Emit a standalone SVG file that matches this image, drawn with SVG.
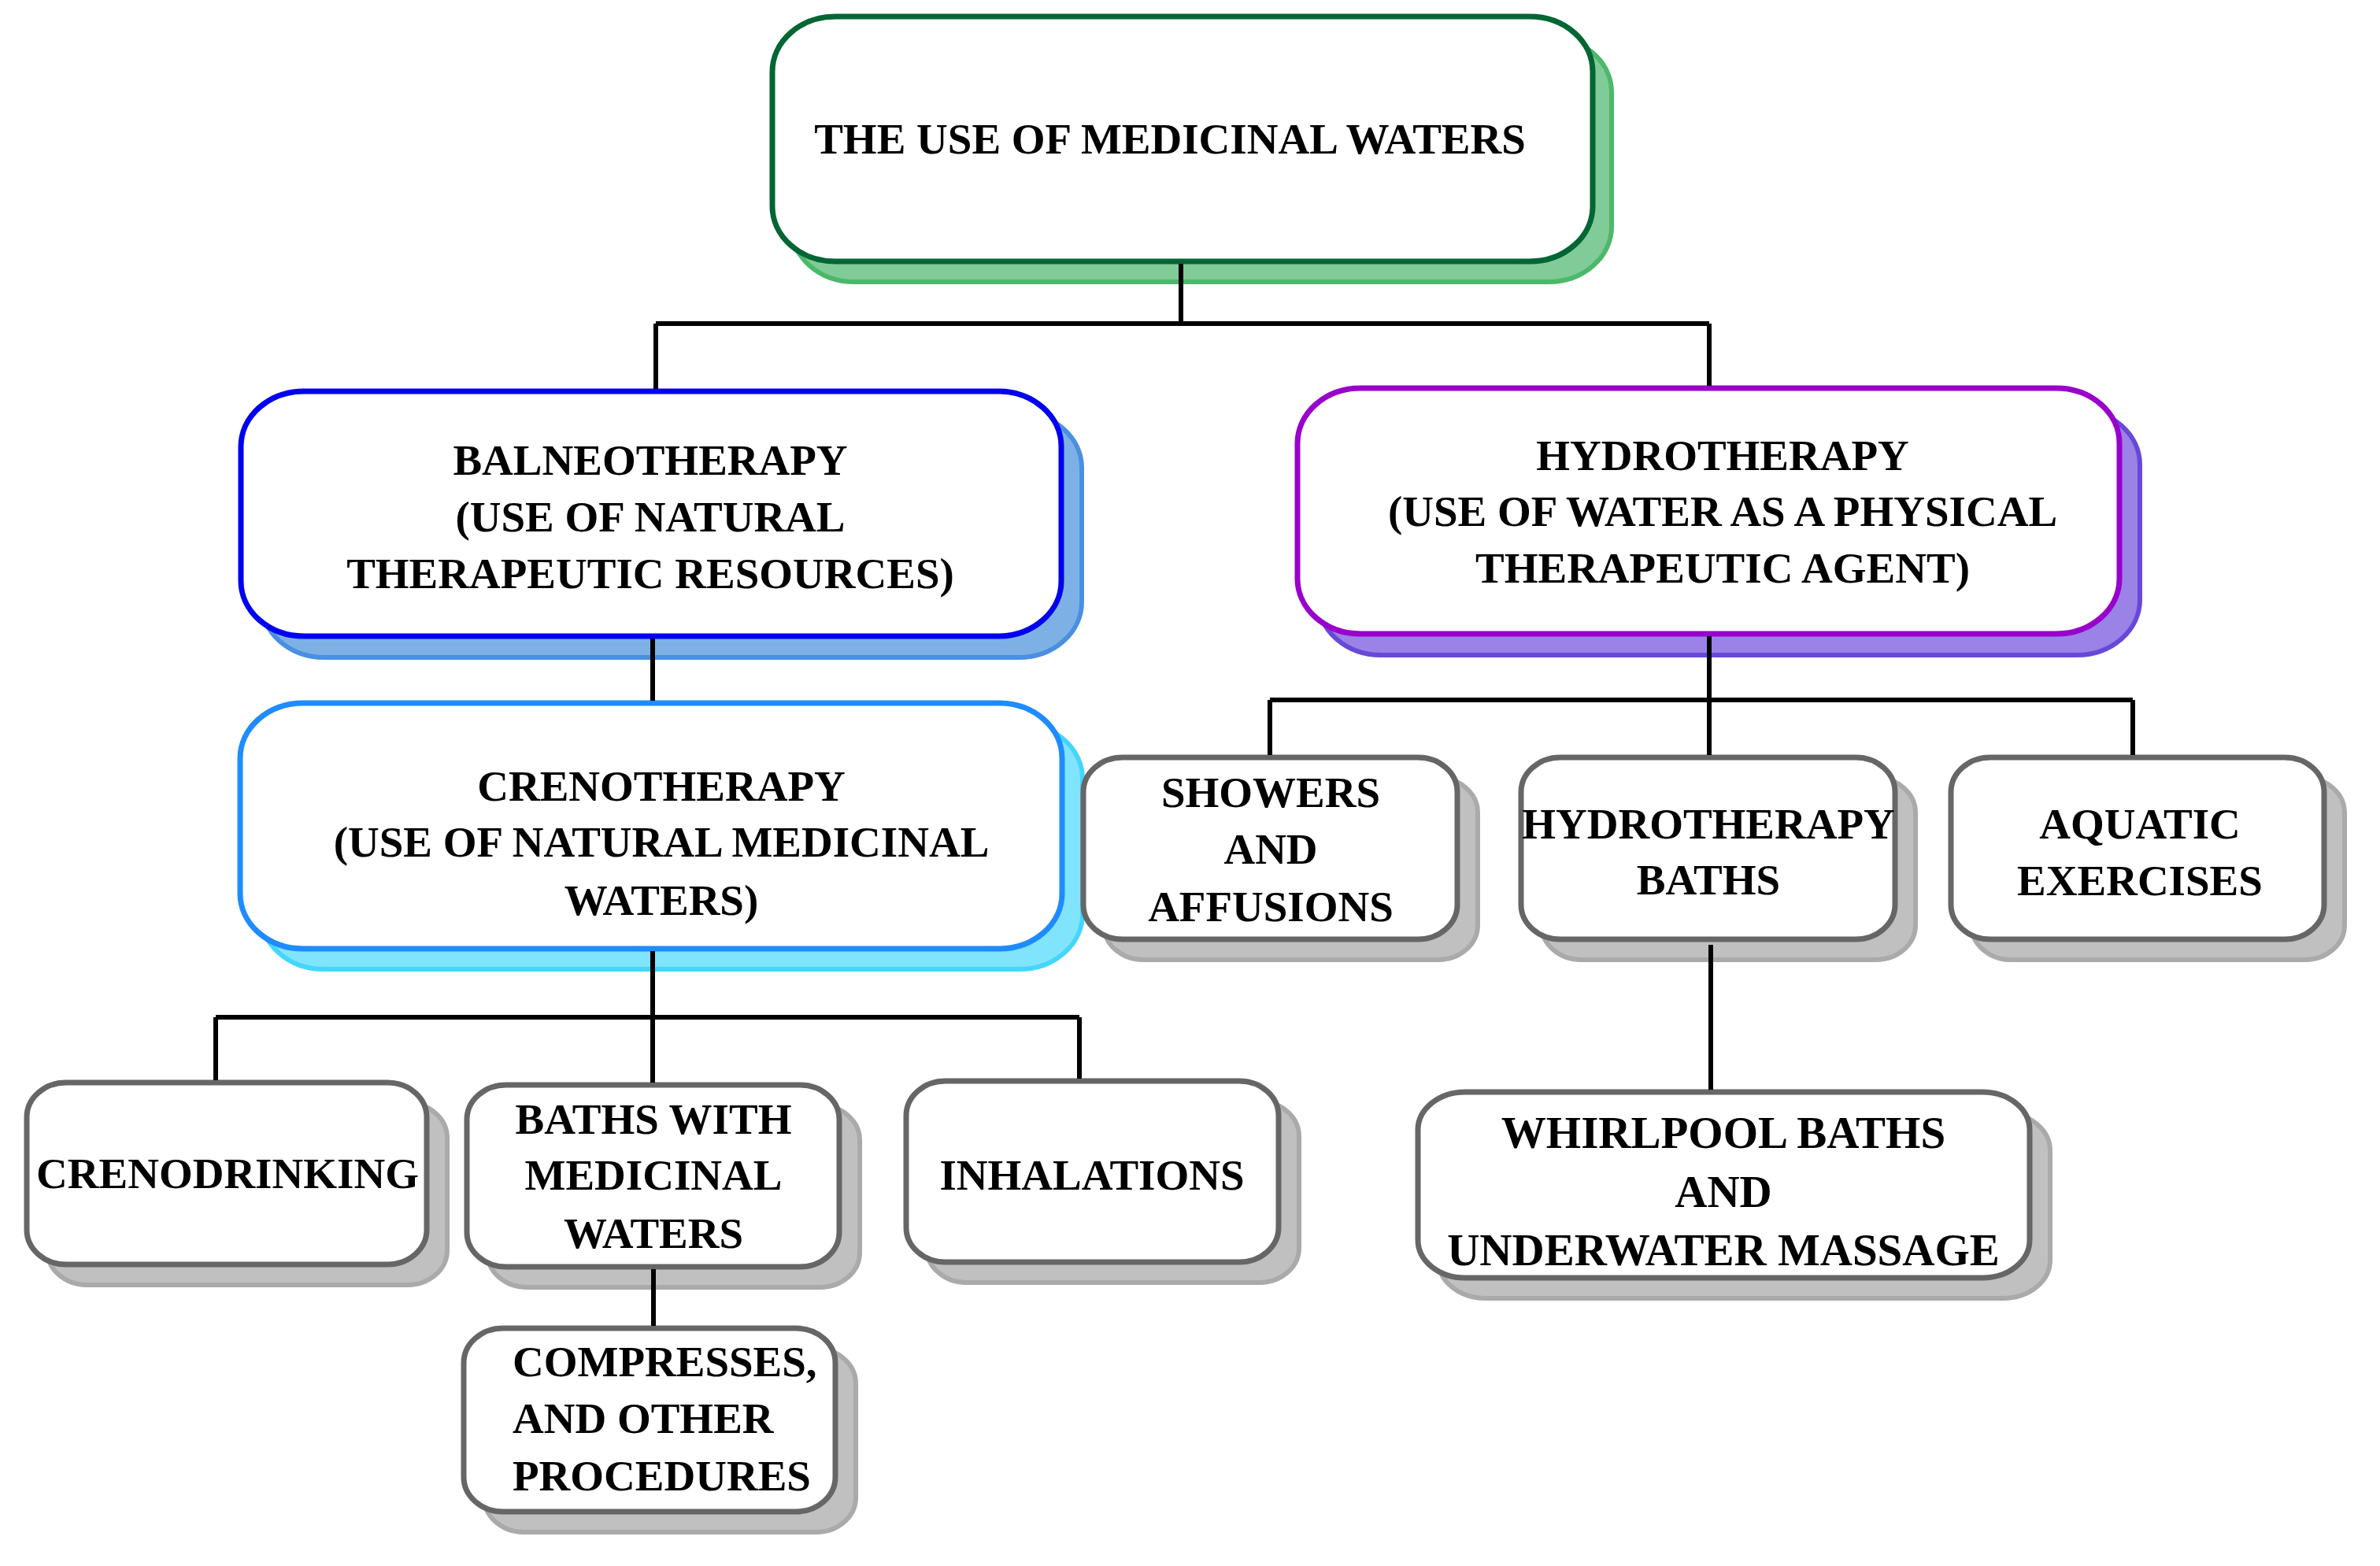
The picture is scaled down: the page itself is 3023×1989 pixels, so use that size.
<svg xmlns="http://www.w3.org/2000/svg" width="3023" height="1989" viewBox="0 0 3023 1989">
<style>
text{font-family:"Liberation Serif","Times New Roman",serif;font-weight:bold;font-size:55px;fill:#000;text-anchor:middle}
.main{fill:#fff;stroke-width:7}
.sh{stroke-width:6}
.g .main{stroke:#006633}.g .sh{fill:#80cb97;stroke:#4cb86a}
.b .main{stroke:#0000f0}.b .sh{fill:#7db1e6;stroke:#4a8fe0}
.p .main{stroke:#9900cc}.p .sh{fill:#9a82e6;stroke:#6848d8}
.c .main{stroke:#1e8cff}.c .sh{fill:#80e4fc;stroke:#44d6fc}
.k .main{stroke:#666666}.k .sh{fill:#c0c0c0;stroke:#aaaaaa}
#connectors path{fill:none;stroke:#000;stroke-width:6}
</style>
<rect width="3023" height="1989" fill="#ffffff"/>
<g id="n-root" class="g">
<rect class="sh" x="1005" y="47" width="1042" height="311" rx="80" ry="70"/>
<rect class="main" x="981" y="21" width="1042" height="311" rx="80" ry="70"/>
<text x="1486" y="195">THE USE OF MEDICINAL WATERS</text>
</g>
<g id="n-balneo" class="b">
<rect class="sh" x="332" y="524" width="1042" height="311" rx="80" ry="70"/>
<rect class="main" x="306" y="497" width="1042" height="311" rx="80" ry="70"/>
<text x="826" y="603">BALNEOTHERAPY</text>
<text x="826" y="675">(USE OF NATURAL</text>
<text x="826" y="747">THERAPEUTIC RESOURCES)</text>
</g>
<g id="n-hydro" class="p">
<rect class="sh" x="1674" y="520" width="1044" height="312" rx="80" ry="70"/>
<rect class="main" x="1648" y="493" width="1044" height="312" rx="80" ry="70"/>
<text x="2188" y="597">HYDROTHERAPY</text>
<text x="2188" y="668">(USE OF WATER AS A PHYSICAL</text>
<text x="2188" y="740">THERAPEUTIC AGENT)</text>
</g>
<g id="n-creno" class="c">
<rect class="sh" x="331" y="919" width="1044" height="312" rx="80" ry="70"/>
<rect class="main" x="305" y="893" width="1044" height="312" rx="80" ry="70"/>
<text x="840" y="1017">CRENOTHERAPY</text>
<text x="840" y="1088">(USE OF NATURAL MEDICINAL</text>
<text x="840" y="1162">WATERS)</text>
</g>
<g id="n-crenodrinking" class="k">
<rect class="sh" x="60" y="1401" width="508" height="231" rx="50" ry="44"/>
<rect class="main" x="34" y="1375" width="508" height="231" rx="50" ry="44"/>
<text x="289" y="1509">CRENODRINKING</text>
</g>
<g id="n-baths" class="k">
<rect class="sh" x="619" y="1404" width="473" height="231" rx="50" ry="44"/>
<rect class="main" x="593" y="1378" width="473" height="231" rx="50" ry="44"/>
<text x="830" y="1440">BATHS WITH</text>
<text x="830" y="1511">MEDICINAL</text>
<text x="830" y="1585">WATERS</text>
</g>
<g id="n-inhalations" class="k">
<rect class="sh" x="1177" y="1399" width="473" height="230" rx="50" ry="44"/>
<rect class="main" x="1151" y="1373" width="473" height="230" rx="50" ry="44"/>
<text x="1387" y="1511">INHALATIONS</text>
</g>
<g id="n-compresses" class="k">
<rect class="sh" x="615" y="1713" width="472" height="233" rx="50" ry="44"/>
<rect class="main" x="589" y="1687" width="472" height="233" rx="50" ry="44"/>
<text x="651" y="1748" style="text-anchor:start">COMPRESSES,</text>
<text x="651" y="1820" style="text-anchor:start">AND OTHER</text>
<text x="651" y="1893" style="text-anchor:start">PROCEDURES</text>
</g>
<g id="n-showers" class="k">
<rect class="sh" x="1402" y="988" width="475" height="231" rx="50" ry="44"/>
<rect class="main" x="1376" y="962" width="475" height="231" rx="50" ry="44"/>
<text x="1614" y="1025">SHOWERS</text>
<text x="1614" y="1097">AND</text>
<text x="1614" y="1170">AFFUSIONS</text>
</g>
<g id="n-hydrobaths" class="k">
<rect class="sh" x="1958" y="988" width="475" height="231" rx="50" ry="44"/>
<rect class="main" x="1932" y="962" width="475" height="231" rx="50" ry="44"/>
<text x="2170" y="1065">HYDROTHERAPY</text>
<text x="2170" y="1136">BATHS</text>
</g>
<g id="n-aquatic" class="k">
<rect class="sh" x="2504" y="988" width="474" height="231" rx="50" ry="44"/>
<rect class="main" x="2478" y="962" width="474" height="231" rx="50" ry="44"/>
<text x="2718" y="1065">AQUATIC</text>
<text x="2718" y="1137">EXERCISES</text>
</g>
<g id="n-whirlpool" class="k">
<rect class="sh" x="1827" y="1413" width="777" height="236" rx="60" ry="48"/>
<rect class="main" x="1801" y="1387" width="777" height="236" rx="60" ry="48"/>
<text x="2189" y="1458" style="font-size:57px">WHIRLPOOL BATHS</text>
<text x="2189" y="1533" style="font-size:57px">AND</text>
<text x="2189" y="1607" style="font-size:57px">UNDERWATER MASSAGE</text>
</g>
<g id="connectors">
<path d="M1500 335V411M833 411H2171M833 411V494M2171 411V490"/>
<path d="M829 811V890"/>
<path d="M829 1208V1292M274 1292H1371M274 1292V1372M829 1292V1375M1371 1292V1370"/>
<path d="M830 1612V1684"/>
<path d="M2171 808V889M1613 889H2709M1613 889V959M2171 889V959M2709 889V959"/>
<path d="M2173 1200V1384"/>
</g>
</svg>
